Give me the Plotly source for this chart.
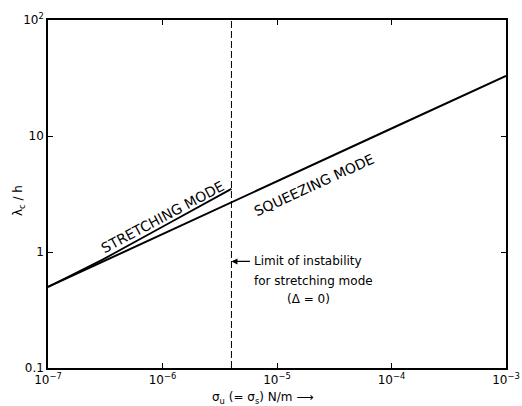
import math
import plotly.graph_objects as go

# ---- data ----
x_tickvals = [1e-7, 1e-6, 1e-5, 1e-4, 1e-3]
x_ticktext = ["10<sup>−7</sup>", "10<sup>−6</sup>", "10<sup>−5</sup>", "10<sup>−4</sup>", "10<sup>−3</sup>"]
y_tickvals = [0.1, 1, 10, 100]
y_ticktext = ["0.1", "1", "10", "10<sup>2</sup>"]

squeeze_x = [1e-7, 1e-6, 4e-6, 1e-5, 1e-4, 1e-3]
squeeze_y = [0.5, 1.43, 2.7, 4.07, 11.6, 33.0]

stretch_x = [1e-7, 3e-7, 1e-6, 4e-6]
stretch_y = [0.5, 0.86, 1.65, 3.5]

limit_x = 4e-6
y_range = [0.1, 100]

FONT = "DejaVu Sans"

fig = go.Figure()
fig.add_trace(go.Scatter(x=squeeze_x, y=squeeze_y, mode="lines",
                         line=dict(color="black", width=2), showlegend=False))
fig.add_trace(go.Scatter(x=stretch_x, y=stretch_y, mode="lines",
                         line=dict(color="black", width=1.8), showlegend=False))
fig.add_trace(go.Scatter(x=[limit_x, limit_x], y=y_range, mode="lines",
                         line=dict(color="black", width=1, dash="7px,3px"), showlegend=False))

L = math.log10
annotations = [
    dict(x=L(1.0e-6), y=L(2.02), text="STRETCHING MODE", textangle=-28,
         showarrow=False, font=dict(size=14, family=FONT, color="black")),
    dict(x=L(2.1e-5), y=L(3.8), text="SQUEEZING MODE", textangle=-24.5,
         showarrow=False, font=dict(size=14, family=FONT, color="black")),
    dict(x=L(limit_x), y=L(0.83), ax=20, ay=0, text="", showarrow=True,
         arrowhead=2, arrowsize=1, arrowwidth=1.2, arrowcolor="black"),
    dict(x=L(6.1e-6), y=L(0.83), text="Limit of instability", xanchor="left",
         showarrow=False, font=dict(size=12, family=FONT, color="black")),
    dict(x=L(6.1e-6), y=L(0.565), text="for stretching mode", xanchor="left",
         showarrow=False, font=dict(size=12, family=FONT, color="black")),
    dict(x=L(1.9e-5), y=L(0.39), text="(Δ = 0)", xanchor="center",
         showarrow=False, font=dict(size=12, family=FONT, color="black")),
    dict(xref="paper", yref="paper", x=0.47, y=-0.085, yanchor="middle",
         text="σ<sub>u</sub> (= σ<sub>s</sub>) N/m ⟶", showarrow=False,
         font=dict(size=12, family=FONT, color="black")),
    dict(xref="paper", yref="paper", x=-0.085, y=0.48, textangle=-90,
         text="λ<sub>c</sub> / h", showarrow=False,
         font=dict(size=12, family=FONT, color="black")),
]

axis_common = dict(showline=True, linecolor="black", linewidth=1.5, mirror="ticks",
                   ticks="inside", ticklen=5, tickwidth=1, tickcolor="black",
                   showgrid=False, zeroline=False, automargin=False,
                   tickfont=dict(size=12, family=FONT, color="black"))

fig.update_layout(
    width=522, height=406,
    margin=dict(l=48, r=16, t=20, b=38, autoexpand=False),
    paper_bgcolor="white", plot_bgcolor="white",
    xaxis=dict(type="log", range=[-7, -3], tickvals=x_tickvals, ticktext=x_ticktext,
               **axis_common),
    yaxis=dict(type="log", range=[-1, 2], tickvals=y_tickvals, ticktext=y_ticktext,
               **axis_common),
    annotations=annotations,
    showlegend=False,
)

fig.write_html("out.html", config={"displayModeBar": False},
               post_script="document.body.style.margin='0';document.body.style.overflow='hidden';")
